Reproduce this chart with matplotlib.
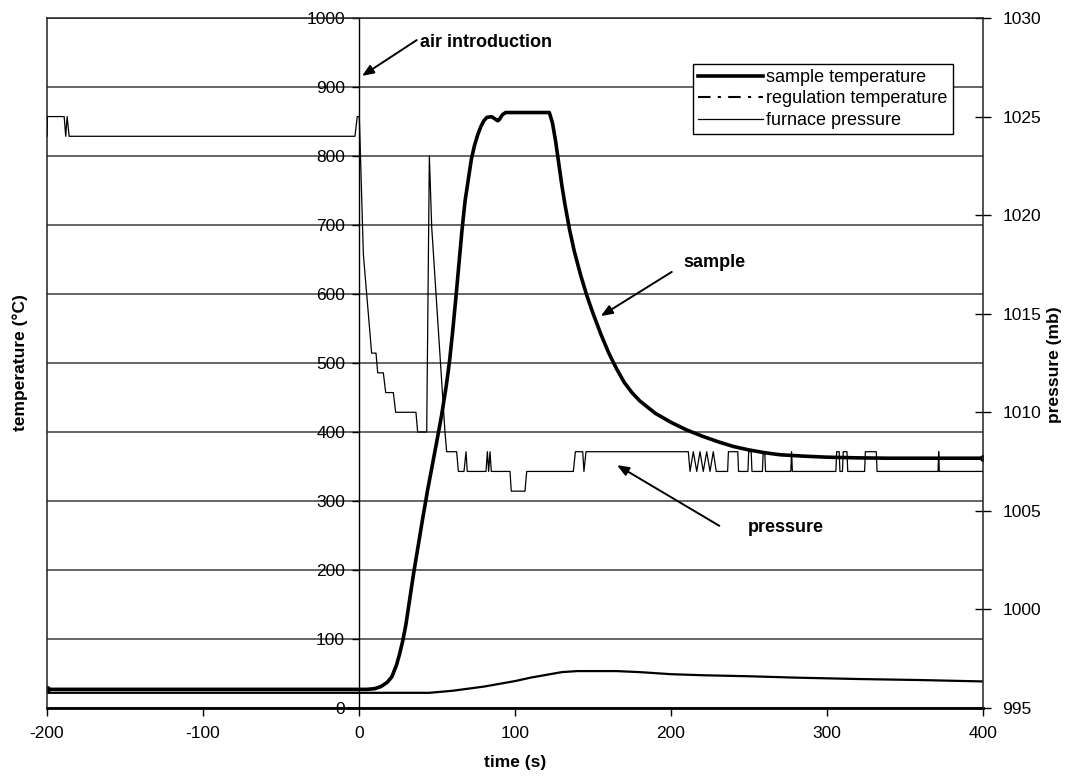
import matplotlib
matplotlib.use("Agg")
import matplotlib.pyplot as plt
from matplotlib.lines import Line2D

plt.rcParams["font.family"] = ["Liberation Sans", "DejaVu Sans"]

# ── sample temperature (°C) ──────────────────────────────────────────────
SAMPLE_T = [-200, 5, 10, 14, 18, 21, 24, 26, 28, 30, 32, 35, 38, 41, 44, 47,
            50, 53, 56, 58, 60, 62, 64, 66, 68, 70, 72, 74, 76, 78, 80, 82,
            85, 87, 89, 90, 92, 94, 122, 124, 126, 128, 130, 132, 135, 138,
            142, 146, 150, 155, 160, 165, 170, 175, 180, 190, 200, 210, 220,
            230, 240, 250, 260, 270, 285, 300, 320, 340, 400]
SAMPLE_V = [27, 27, 28, 31, 37, 45, 62, 78, 97, 120, 150, 195, 236, 277, 316,
            352, 388, 425, 468, 502, 545, 592, 642, 692, 735, 765, 795, 815,
            830, 842, 851, 856, 857, 854, 851, 853, 860, 863, 863, 848, 822,
            790, 758, 730, 693, 662, 628, 598, 572, 542, 515, 492, 472, 457,
            445, 427, 414, 403, 394, 386, 379, 374, 370, 367, 365, 363.5,
            362.5, 362, 362]

# ── regulation temperature (°C) ──────────────────────────────────────────
REG_T = [-200, 45, 50, 60, 70, 80, 90, 100, 110, 120, 130, 140, 165, 180,
         200, 220, 250, 280, 320, 360, 400]
REG_V = [22, 22, 23, 25, 28, 31, 35, 39, 44, 48, 52, 53.5, 53.5, 52, 49,
         47.5, 46, 44, 42, 40.5, 38.5]

# ── furnace pressure (mb) ────────────────────────────────────────────────
PRES_T = [-200, -199.8, -189, -188, -187.1, -185.8, -2.6, -1.1, 0.2, 2.8,
          8.1, 10.9, 12.0, 15.6, 17.1, 22.0, 23.5, 36.5, 37.6, 43.4, 45.1,
          46.6, 55.1, 56.2, 62.6, 63.7, 67.3, 68.6, 69.4, 81.4, 82.3, 83.1,
          84.0, 84.8, 96.8, 97.6, 106.4, 107.5, 137.4, 138.7, 143.4, 144.2,
          145.5, 211.1, 212.2, 214.3, 216.5, 218.6, 220.7, 222.9, 225.0,
          227.1, 229.0, 236.3, 236.8, 242.8, 243.3, 249.3, 249.8, 251.4,
          251.9, 258.6, 259.1, 260.1, 260.6, 276.8, 277.3, 277.8, 305.7,
          306.2, 307.8, 308.3, 309.9, 310.4, 312.8, 313.3, 324.1, 324.6,
          331.6, 332.1, 371.2, 371.6, 372.0, 400]
PRES_V = [1024, 1025, 1025, 1024, 1025, 1024, 1024, 1025, 1025, 1018,
          1013, 1013, 1012, 1012, 1011, 1011, 1010, 1010, 1009, 1009, 1023,
          1019.4, 1009, 1008, 1008, 1007, 1007, 1008, 1007, 1007, 1008, 1007,
          1008, 1007, 1007, 1006, 1006, 1007, 1007, 1008, 1008, 1007,
          1008, 1008, 1007, 1008, 1007, 1008, 1007, 1008, 1007,
          1008, 1007, 1007, 1008, 1008, 1007, 1007, 1008, 1008,
          1007, 1007, 1008, 1008, 1007, 1007, 1008, 1007, 1007,
          1008, 1008, 1007, 1007, 1008, 1008, 1007, 1007, 1008,
          1008, 1007, 1007, 1008, 1007, 1007]

X_TICKS = [-200, -100, 0, 100, 200, 300, 400]
T_TICKS = list(range(0, 1001, 100))
P_TICKS = list(range(995, 1031, 5))

GRID = "#3c3c3c"
FS = 12.5

fig = plt.figure(figsize=(10.71, 7.78), dpi=100)
ax = fig.add_axes([47 / 1071, 1 - 708 / 778, 936 / 1071, 690 / 778])
ax2 = ax.twinx()

ax.set_xlim(-200, 400)
ax.set_ylim(0, 1000)
ax2.set_ylim(995, 1030)

# temperature axis crosses the time axis at t = 0
ax.spines["left"].set_position(("data", 0))
ax.spines["left"].set_linewidth(1.0)
ax.spines["top"].set_visible(False)
ax.spines["right"].set_visible(False)
ax.spines["bottom"].set_linewidth(2.0)
ax2.spines["bottom"].set_visible(False)
for s in ("left", "top", "right"):
    ax2.spines[s].set_linewidth(1.1)
    ax2.spines[s].set_color("#222222")

ax.set_xticks(X_TICKS)
ax.set_yticks(T_TICKS)
ax2.set_yticks(P_TICKS)
ax.set_xticklabels([str(v) for v in X_TICKS])
ax.tick_params(axis="x", direction="out", length=6, width=1.0, pad=7, labelsize=FS)
ax.tick_params(axis="y", direction="out", length=5, width=1.0, pad=5, labelsize=FS)
ax2.tick_params(axis="y", direction="inout", length=12, width=1.0, pad=8, labelsize=FS)

ax.grid(axis="y", color=GRID, linewidth=1.1)
ax.set_axisbelow(True)

ax.plot(REG_T, REG_V, color="black", linewidth=1.6, zorder=3)
ax.plot(SAMPLE_T, SAMPLE_V, color="black", linewidth=2.6, zorder=4,
        marker="o", markersize=4, markevery=[0, len(SAMPLE_T) - 1])
ax2.plot(PRES_T, PRES_V, color="black", linewidth=0.9, zorder=3)

# annotations
bold = dict(fontsize=13, fontweight="bold")
arrow = dict(arrowstyle="-|>,head_length=0.7,head_width=0.28",
             color="black", lw=1.4, shrinkA=0, shrinkB=0)
ax.text(39, 964, "air introduction", ha="left", va="center", **bold)
ax.annotate("", xy=(1.9, 916), xytext=(37, 968), arrowprops=arrow)
ax.text(208, 646, "sample", ha="left", va="center", **bold)
ax.annotate("", xy=(155, 568), xytext=(200.5, 632), arrowprops=arrow)
ax.text(249, 262, "pressure", ha="left", va="center", **bold)
ax.annotate("", xy=(165.4, 352), xytext=(231, 264), arrowprops=arrow)

handles = [
    Line2D([], [], color="black", linewidth=2.6),
    Line2D([], [], color="black", linewidth=1.5, dashes=(6, 3.5, 1.5, 3.5)),
    Line2D([], [], color="black", linewidth=0.9),
]
leg = ax2.legend(handles, ["sample temperature", "regulation temperature",
                           "furnace pressure"],
                 loc="upper left", bbox_to_anchor=(0.69, 0.934),
                 fontsize=13, frameon=True, fancybox=False, framealpha=1,
                 edgecolor="black", borderaxespad=0, borderpad=0.3,
                 handlelength=3.6, handletextpad=0.15, labelspacing=0.25)
leg.get_frame().set_linewidth(1.0)
leg.set_zorder(10)

fig.text(515 / 1071, 1 - 763 / 778, "time (s)", ha="center", va="center",
         fontsize=12.5, fontweight="bold")
fig.text(20 / 1071, 1 - 363 / 778, "temperature (°C)", rotation=90,
         ha="center", va="center", fontsize=12.5, fontweight="bold")
fig.text(1055 / 1071, 1 - 365 / 778, "pressure (mb)", rotation=90,
         ha="center", va="center", fontsize=12.5, fontweight="bold")

fig.savefig("out.png", dpi=100, facecolor="white")
